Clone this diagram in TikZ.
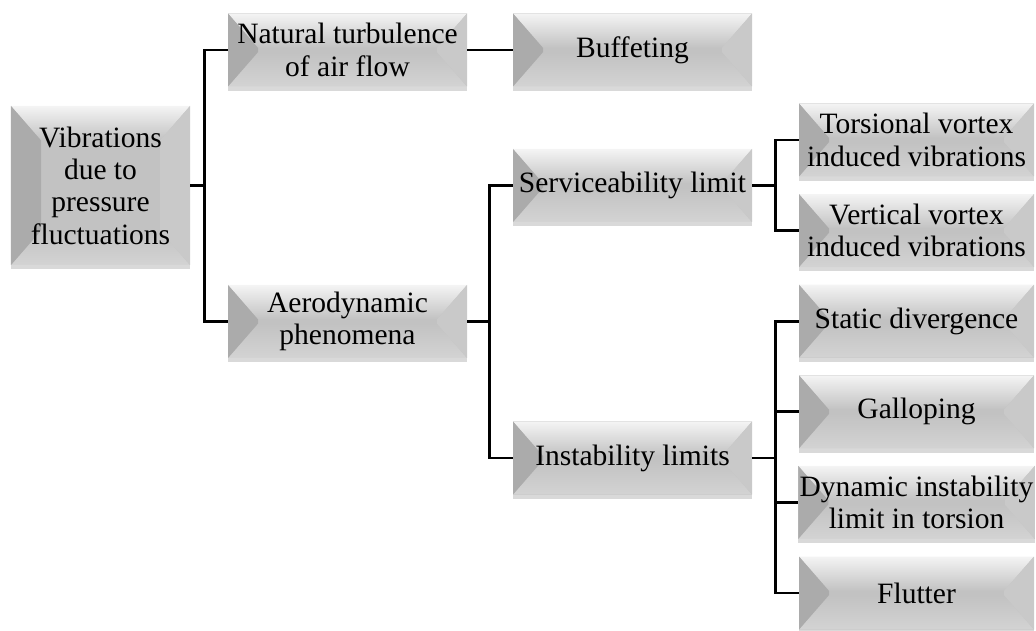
\documentclass[tikz,border=0pt]{standalone}
\usepackage{fontspec}
\setmainfont{Liberation Serif}
\usepackage{tikz}
\usetikzlibrary{positioning,shadows}
\definecolor{facegray}{HTML}{C2C2C2}
\definecolor{leftgray}{HTML}{ABABAB}
\definecolor{rightgray}{HTML}{C9C9C9}
\definecolor{bottomgray}{HTML}{D3D3D3}
\definecolor{topgray}{HTML}{F4F4F4}
\newcommand{\boxfont}{\fontsize{21}{23}\selectfont}
\newcommand{\bevx}{0.75cm}
\newcommand{\bevy}{0.86cm}
\tikzset{node distance=2.265cm, auto,
  bevelbox/.style={minimum width=5.975cm, minimum height=1.825cm, inner sep=1pt,
    align=center, font=\boxfont, fill=facegray,
    drop shadow={opacity=.3, shadow xshift=0pt, shadow yshift=-3pt},
    path picture={
      \path (path picture bounding box.north west) coordinate (pNW)
            (path picture bounding box.north east) coordinate (pNE)
            (path picture bounding box.south west) coordinate (pSW)
            (path picture bounding box.south east) coordinate (pSE);
      \shade [top color=topgray, bottom color=facegray]
        (pNW) -- (pNE) -- ([shift={(-\bevx,-\bevy)}]pNE) -- ([shift={(\bevx,-\bevy)}]pNW) -- cycle;
      \shade [top color=facegray, bottom color=bottomgray]
        (pSW) -- ([shift={(\bevx,\bevy)}]pSW) -- ([shift={(-\bevx,\bevy)}]pSE) -- (pSE) -- cycle;
      \fill [leftgray]
        (pNW) -- ([shift={(\bevx,-\bevy)}]pNW) -- ([shift={(\bevx,\bevy)}]pSW) -- (pSW) -- cycle;
      \fill [rightgray]
        (pNE) -- ([shift={(-\bevx,-\bevy)}]pNE) -- ([shift={(-\bevx,\bevy)}]pSE) -- (pSE) -- cycle;
    }},
  link/.style={line width=2pt, black}
}
\begin{document}
\begin{tikzpicture}

             \useasboundingbox (0,0) rectangle (25.9,-15.775);

             \node (vib) [bevelbox, minimum width=4.475cm, minimum height=3.975cm]
                   at (2.5125,-4.6375) {Vibrations\\due to\\pressure\\fluctuations};

             \node (nat) [bevelbox] at (8.6875,-1.25) {Natural turbulence\\of air flow};
             \node (buf) [bevelbox, right of=nat, node distance=7.125cm] {Buffeting};

             \node (aero) [bevelbox] at (8.6875,-8.0375) {Aerodynamic\\phenomena};

             \node (serv) [bevelbox] at (15.8125,-4.6375) {Serviceability limit};
             \node (inst) [bevelbox] at (15.8125,-11.45) {Instability limits};

             \node (tors) [bevelbox, minimum width=5.875cm] at (22.9125,-3.5) {Torsional vortex\\induced vibrations};
             \node (vert) [bevelbox, minimum width=5.875cm, below of=tors] {Vertical vortex\\induced vibrations};
             \node (stat) [bevelbox, minimum width=5.875cm, below of=vert] {Static divergence};
             \node (gall) [bevelbox, minimum width=5.875cm, below of=stat] {Galloping};
             \node (dyn)  [bevelbox, minimum width=5.875cm, below of=gall] {Dynamic instability\\limit in torsion};
             \node (flut) [bevelbox, minimum width=5.875cm, below of=dyn] {Flutter};

             \draw [link] (vib.east) -- ++(0.35,0) |- (nat.west);
             \draw [link] (vib.east) -- ++(0.35,0) |- (aero.west);
             \draw [link] (nat.east) -- (buf.west);

             \draw [link] (aero.east) -- ++(0.55,0) |- (serv.west);
             \draw [link] (aero.east) -- ++(0.55,0) |- (inst.west);

             \draw [link] (serv.east) -- ++(0.575,0) |- (tors.west);
             \draw [link] (serv.east) -- ++(0.575,0) |- (vert.west);

             \foreach \n in {stat,gall,dyn,flut}
               \draw [link] (inst.east) -- ++(0.575,0) |- (\n.west);

\end{tikzpicture}
\end{document}
